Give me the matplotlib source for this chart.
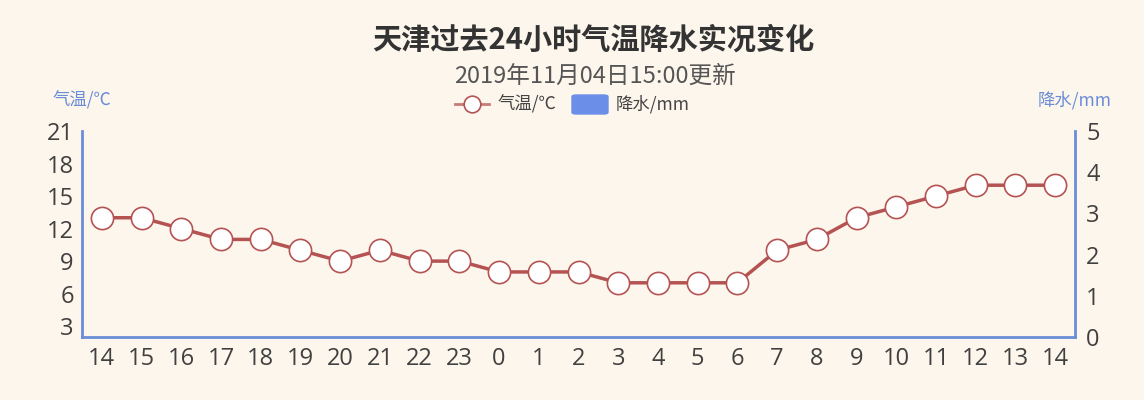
import matplotlib
matplotlib.use("Agg")
import matplotlib.pyplot as plt
from matplotlib.lines import Line2D
from matplotlib.patches import FancyBboxPatch
import numpy as np

plt.rcParams['font.family'] = ['Noto Sans CJK SC', 'DejaVu Sans']

hours = ['14', '15', '16', '17', '18', '19', '20', '21', '22', '23', '0', '1', '2',
         '3', '4', '5', '6', '7', '8', '9', '10', '11', '12', '13', '14']
temperature = [13, 13, 12, 11, 11, 10, 9, 10, 9, 9, 8, 8, 8, 7, 7, 7, 7, 10, 11, 13, 14, 15, 16, 16, 16]
precipitation = [0] * 25
temp_ticks = [3, 6, 9, 12, 15, 18, 21]
rain_ticks = [0, 1, 2, 3, 4, 5]

title = '天津过去24小时气温降水实况变化'
subtitle = '2019年11月04日15:00更新'

bg = '#FDF6EC'
axis_blue = '#6A8DD8'
line_red = '#B55353'
bar_blue = '#6B8FE8'
tick_color = '#404040'
tick_font = ['Open Sans', 'DejaVu Sans']

W, H = 1144, 400
fig = plt.figure(figsize=(W / 100, H / 100), dpi=100, facecolor=bg)
ax = fig.add_axes([82 / W, 1 - 337 / H, (1075 - 82) / W, (337 - 131) / H])
ax.set_facecolor(bg)
ax2 = ax.twinx()

x = np.arange(len(hours))
ax2.bar(x, precipitation, width=0.6, color=bar_blue, zorder=1)
ax.set_zorder(ax2.get_zorder() + 1)
ax.patch.set_visible(False)
ax.plot(x, temperature, color=line_red, lw=2.5, marker='o', markersize=16,
        markerfacecolor='white', markeredgecolor=line_red, markeredgewidth=1.2,
        zorder=3, clip_on=False)

ax.set_xlim(-0.5, len(hours) - 0.5)
ax.set_ylim(2, 21)
ax.set_yticks(temp_ticks)
ax2.set_ylim(0, 5)
ax2.set_yticks(rain_ticks)
ax.set_xticks(x)
ax.set_xticklabels(hours)

for a in (ax, ax2):
    for s in a.spines.values():
        s.set_visible(False)
    a.tick_params(length=0, labelsize=17, colors=tick_color)
    for lab in a.get_xticklabels() + a.get_yticklabels():
        lab.set_family(tick_font)
ax.spines['left'].set_visible(True)
ax.spines['left'].set_color(axis_blue)
ax.spines['left'].set_linewidth(2)
ax.spines['bottom'].set_visible(True)
ax.spines['bottom'].set_color(axis_blue)
ax.spines['bottom'].set_linewidth(2)
ax2.spines['right'].set_visible(True)
ax2.spines['right'].set_color(axis_blue)
ax2.spines['right'].set_linewidth(2)
ax.tick_params(axis='y', pad=6)
ax.tick_params(axis='x', pad=7)
ax2.tick_params(axis='y', pad=8)

fig.text(593 / W, 1 - 40 / H, title, ha='center', va='center', fontsize=21,
         fontweight='bold', color='#333333')
fig.text(595 / W, 1 - 76 / H, subtitle, ha='center', va='center', fontsize=17,
         color='#555555')
fig.text(82 / W, 1 - 100 / H, '气温/℃', ha='center', va='center', fontsize=12.5,
         color=axis_blue, fontweight='medium')
fig.text(1075 / W, 1 - 100 / H, '降水/mm', ha='center', va='center', fontsize=12.5,
         color=axis_blue, fontweight='medium')

# legend
ly = 1 - 104 / H
fig.add_artist(Line2D([455 / W, 489 / W], [ly, ly], color='#C87A78', lw=2,
                      transform=fig.transFigure))
fig.add_artist(Line2D([472 / W], [ly], marker='o', markersize=12,
                      markerfacecolor='white', markeredgecolor=line_red,
                      markeredgewidth=1.2, transform=fig.transFigure))
fig.text(498 / W, ly, '气温/℃', ha='left', va='center', fontsize=12.5, color='#444444')
fig.add_artist(FancyBboxPatch((572 / W, 1 - 114 / H), 36 / W, 19 / H,
                              boxstyle='round,pad=0,rounding_size=0.004',
                              transform=fig.transFigure, color=bar_blue))
fig.text(616 / W, ly, '降水/mm', ha='left', va='center', fontsize=12.5, color='#444444')

fig.savefig('out.png', dpi=100, facecolor=bg)
